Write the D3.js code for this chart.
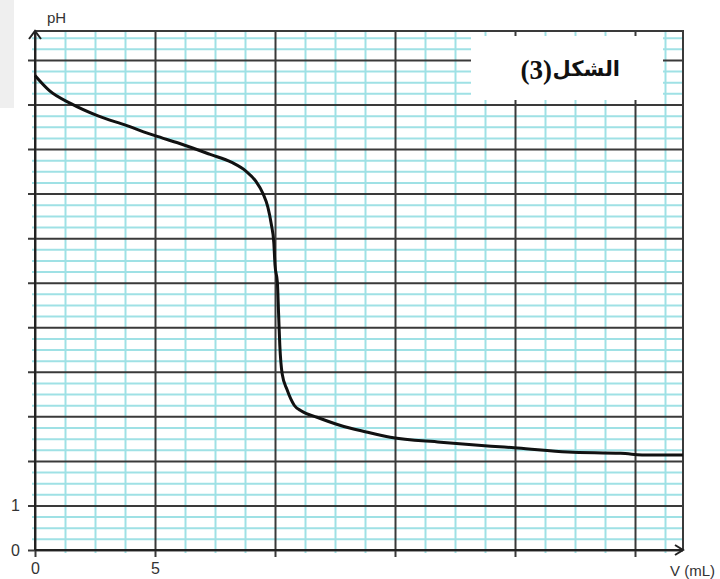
<!DOCTYPE html>
<html>
<head>
<meta charset="utf-8">
<script src="https://cdn.jsdelivr.net/npm/d3@7"></script>
<style>
  body { margin: 0; background: #fff; }
  svg { display: block; }
</style>
</head>
<body>
<div id="chart"></div>
<script>
// titration curve: V (mL) vs pH
const volume = [0, 0.6, 1.5, 2.6, 3.8, 5.0, 6.0, 7.3, 8.2, 8.8, 9.2, 9.5, 9.7, 9.85, 9.95, 10.0, 10.1, 10.15, 10.2, 10.3, 10.5, 10.8, 11.1, 11.75, 12.7, 13.8, 14.8, 16.9, 19.0, 20.1, 22.2, 24.4, 25.6, 27];
const ph     = [10.65, 10.31, 10.02, 9.75, 9.53, 9.30, 9.13, 8.88, 8.70, 8.50, 8.28, 8.0, 7.7, 7.3, 6.9, 6.4, 6.0, 5.3, 4.6, 3.95, 3.6, 3.25, 3.12, 2.98, 2.80, 2.65, 2.53, 2.42, 2.33, 2.29, 2.20, 2.17, 2.13, 2.13];

const xTicks = [0, 5];
const yTicks = [0, 1];
const xMajor = [0, 5, 10, 15, 20, 25];
const yMajor = d3.range(0, 12, 1);
const xMinor = d3.range(0, 27.01, 1.25).filter(v => v % 5 !== 0);
const yMinor = d3.range(0, 11.65, 0.25).filter(v => v % 1 !== 0);
const captionWord = 'الشكل';
const captionNum = '(3)';

const W = 720, H = 579;
const m = { l: 35, t: 31, r: 37, b: 29 };
const x = d3.scaleLinear().domain([0, 27]).range([m.l, W - m.r]);
const y = d3.scaleLinear().domain([0, 11.65]).range([H - m.b, m.t]);

const svg = d3.select('#chart').append('svg').attr('width', W).attr('height', H);

// odd grey patch in the scan, top left
svg.append('rect').attr('x', 0).attr('y', 0).attr('width', 14).attr('height', 108).attr('fill', '#efefef');

const cyan = '#9fe1e5', dark = '#3a3a3a';
const plotW = x(27) - x(0), plotH = y(0) - y(11.65);

function grid(g, color) {
  g.select('.domain').remove();
  g.selectAll('.tick line').attr('stroke', color).attr('stroke-width', 2);
}

// minor grid
svg.append('g').attr('transform', `translate(0,${y(0) + 3})`)
  .call(d3.axisBottom(x).tickValues(xMinor).tickSize(-(plotH + 3)).tickFormat(''))
  .call(g => grid(g, cyan));
svg.append('g').attr('transform', `translate(${x(0) - 3},0)`)
  .call(d3.axisLeft(y).tickValues(yMinor).tickSize(-(plotW + 3)).tickFormat(''))
  .call(g => grid(g, cyan));

// major grid
svg.append('g').attr('transform', `translate(0,${y(0) + 7})`)
  .call(d3.axisBottom(x).tickValues(xMajor).tickSize(-(plotH + 7)).tickFormat(''))
  .call(g => grid(g, dark));
svg.append('g').attr('transform', `translate(${x(0) - 7},0)`)
  .call(d3.axisLeft(y).tickValues(yMajor).tickSize(-(plotW + 7)).tickFormat(''))
  .call(g => grid(g, dark));

// frame
svg.append('path')
  .attr('d', `M${x(0)},${y(11.65)}H${x(27)}V${y(0)}`)
  .attr('fill', 'none').attr('stroke', dark).attr('stroke-width', 2);

// axes with arrows
svg.append('path')
  .attr('d', `M${x(0)},${y(0)}V${y(11.65)} M${x(0) - 6},${y(11.65) + 8}L${x(0)},${y(11.65)}L${x(0) + 6},${y(11.65) + 8}`)
  .attr('fill', 'none').attr('stroke', '#222').attr('stroke-width', 2);
svg.append('path')
  .attr('d', `M${x(0)},${y(0)}H${x(27)} M${x(27) - 8},${y(0) - 5}L${x(27)},${y(0)}L${x(27) - 8},${y(0) + 5}`)
  .attr('fill', 'none').attr('stroke', '#222').attr('stroke-width', 2);

// tick labels
const labelFont = '"Liberation Sans", Arial, sans-serif';
svg.append('g').attr('transform', `translate(0,${y(0) + 9})`)
  .call(d3.axisBottom(x).tickValues(xTicks).tickSize(0).tickPadding(4).tickFormat(d3.format('d')))
  .call(g => g.select('.domain').remove())
  .call(g => g.selectAll('text').attr('font-size', 16).attr('font-family', labelFont).attr('fill', '#333'));
svg.append('g').attr('transform', `translate(${x(0) - 11},0)`)
  .call(d3.axisLeft(y).tickValues(yTicks).tickSize(0).tickPadding(4).tickFormat(d3.format('d')))
  .call(g => g.select('.domain').remove())
  .call(g => g.selectAll('text').attr('font-size', 16).attr('font-family', labelFont).attr('fill', '#333'));

svg.append('text').attr('x', 47).attr('y', 23).attr('font-size', 15).attr('font-family', labelFont).attr('fill', '#333').text('pH');
svg.append('text').attr('x', 715).attr('y', 576).attr('text-anchor', 'end').attr('font-size', 15).attr('font-family', labelFont).attr('fill', '#333').text('V (mL)');

// curve
const line = d3.line().x((d, i) => x(volume[i])).y((d, i) => y(ph[i])).curve(d3.curveMonotoneX);
svg.append('path').attr('d', line(volume))
  .attr('fill', 'none').attr('stroke', '#111').attr('stroke-width', 3).attr('stroke-linejoin', 'round');

// caption box
svg.append('rect').attr('x', 471).attr('y', 36).attr('width', 192).attr('height', 64).attr('fill', '#fff');
svg.append('text').attr('x', 620).attr('y', 76).attr('text-anchor', 'end')
  .attr('font-size', 21).attr('font-weight', 'bold')
  .attr('font-family', '"DejaVu Sans", sans-serif')
  .attr('fill', '#111').text(captionWord);
svg.append('text').attr('x', 552).attr('y', 79).attr('text-anchor', 'end')
  .attr('font-size', 27).attr('font-weight', 'bold')
  .attr('font-family', '"Liberation Serif", "Times New Roman", serif')
  .attr('fill', '#111').text(captionNum);
</script>
</body>
</html>
